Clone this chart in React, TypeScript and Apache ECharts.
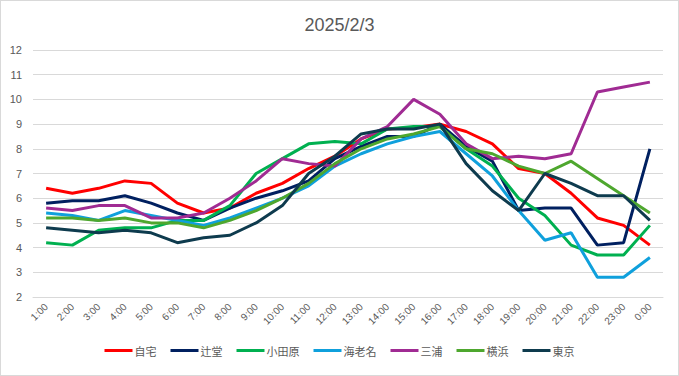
import React, { useEffect, useRef } from "react";
import * as echarts from "echarts";

const hours = ["1:00","2:00","3:00","4:00","5:00","6:00","7:00","8:00","9:00","10:00","11:00","12:00","13:00","14:00","15:00","16:00","17:00","18:00","19:00","20:00","21:00","22:00","23:00","0:00"];

const jitaku = [6.4,6.2,6.4,6.7,6.6,5.8,5.4,5.6,6.2,6.6,7.2,7.7,8.4,8.8,8.85,9.0,8.7,8.2,7.2,7.0,6.2,5.2,4.9,4.1];
const tsujido = [5.8,5.9,5.9,6.1,5.8,5.4,5.1,5.6,6.0,6.3,6.7,7.6,8.1,8.5,8.5,9.0,8.1,7.5,5.5,5.6,5.6,4.1,4.2,8.0];
const odawara = [4.2,4.1,4.7,4.8,4.8,5.1,5.1,5.7,7.0,7.6,8.2,8.3,8.2,8.8,8.9,8.9,8.0,7.3,6.0,5.3,4.1,3.7,3.7,4.9];
const ebina = [5.4,5.3,5.1,5.5,5.3,5.1,4.9,5.2,5.6,6.0,6.5,7.3,7.8,8.2,8.5,8.7,7.8,6.9,5.5,4.3,4.6,2.8,2.8,3.6];
const miura = [5.6,5.5,5.7,5.7,5.2,5.2,5.4,6.0,6.7,7.6,7.4,7.3,8.4,8.9,10.0,9.4,8.2,7.6,7.7,7.6,7.8,10.3,10.5,10.7];
const yokohama = [5.2,5.2,5.1,5.2,5.0,5.0,4.8,5.1,5.5,6.0,6.6,7.4,8.0,8.4,8.6,8.9,8.0,7.8,7.3,7.0,7.5,6.8,6.1,5.4];
const tokyo = [4.8,4.7,4.6,4.7,4.6,4.2,4.4,4.5,5.0,5.7,7.0,7.7,8.6,8.8,8.8,9.0,7.4,6.3,5.5,7.0,6.6,6.1,6.1,5.1];

const seriesNames = ["自宅","辻堂","小田原","海老名","三浦","横浜","東京"];
const seriesData = [jitaku, tsujido, odawara, ebina, miura, yokohama, tokyo];
const seriesColors = ["#FF0000","#002060","#00B050","#0FA0DC","#A02B93","#4EA72E","#0E3B4E"];

export default function App() {
  const ref = useRef<HTMLDivElement>(null);
  useEffect(() => {
    if (!ref.current) return;
    const chart = echarts.init(ref.current, undefined, { renderer: "svg" });
    chart.setOption({
      animation: false,
      backgroundColor: "#ffffff",
      title: {
        text: "2025/2/3",
        left: "center",
        top: 10,
        textStyle: { fontFamily: "Liberation Sans, Arial, sans-serif", fontSize: 18, fontWeight: "normal", color: "#595959" },
      },
      legend: {
        bottom: 14,
        left: "center",
        data: seriesNames,
        icon: "rect",
        itemWidth: 28,
        itemHeight: 3,
        itemGap: 14,
        textStyle: { fontFamily: "Noto Sans CJK JP, sans-serif", fontSize: 11, color: "#595959", padding: [0, 0, 0, -3] },
      },
      grid: { left: 32, right: 15, top: 49, bottom: 78 },
      xAxis: {
        type: "category",
        data: hours,
        boundaryGap: true,
        axisLine: { lineStyle: { color: "#D9D9D9" } },
        axisTick: { show: false },
        axisLabel: { rotate: 45, interval: 0, fontFamily: "Liberation Sans, Arial, sans-serif", fontSize: 10, color: "#595959", margin: 8 },
      },
      yAxis: {
        type: "value",
        min: 2,
        max: 12,
        interval: 1,
        axisLine: { show: false },
        axisTick: { show: false },
        axisLabel: { fontFamily: "Liberation Sans, Arial, sans-serif", fontSize: 11, color: "#595959", margin: 11 },
        splitLine: { lineStyle: { color: "#D9D9D9", width: 1 } },
      },
      series: seriesNames.map((name, i) => ({
        name,
        type: "line",
        data: seriesData[i],
        showSymbol: false,
        symbol: "none",
        lineStyle: { color: seriesColors[i], width: 3 },
        itemStyle: { color: seriesColors[i] },
      })),
    });
    return () => chart.dispose();
  }, []);
  return (
    <div
      ref={ref}
      style={{ position: "fixed", left: 0, top: 0, width: 679, height: 376, boxSizing: "border-box", border: "1px solid #D9D9D9" }}
    />
  );
}
